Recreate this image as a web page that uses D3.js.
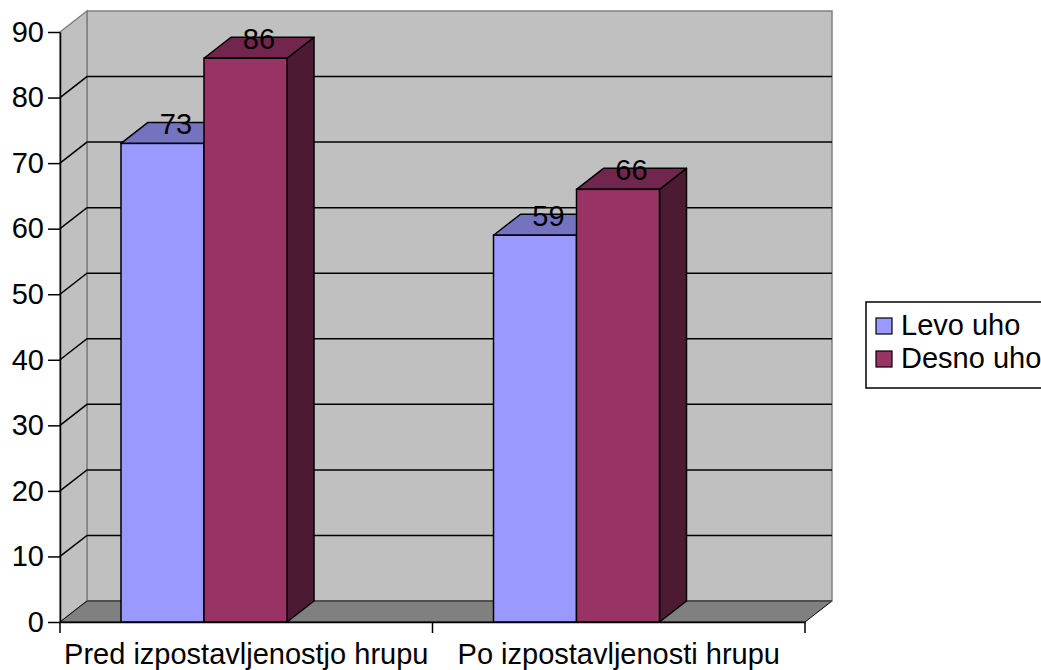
<!DOCTYPE html>
<html>
<head>
<meta charset="utf-8">
<script src="https://cdn.jsdelivr.net/npm/d3@7"></script>
<style>
  html, body { margin: 0; padding: 0; background: #ffffff; }
  svg { display: block; font-family: "Liberation Sans", Arial, sans-serif; }
</style>
</head>
<body>
<svg id="chart" width="1041" height="670"></svg>
<script>
// Chart data
const categories = ["Pred izpostavljenostjo hrupu", "Po izpostavljenosti hrupu"];
const seriesNames = ["Levo uho", "Desno uho"];
const levoUho = [73, 59];
const desnoUho = [86, 66];
const yTicks = [0, 10, 20, 30, 40, 50, 60, 70, 80, 90];

const seriesValues = [levoUho, desnoUho];
const colors = {
  front: ["#9999ff", "#993366"],
  top:   ["#7373bf", "#73264d"],
  side:  ["#4d4d80", "#4d1a33"]
};
const fontSize = 29;

const svg = d3.select("#chart");

// Plot geometry: front plane and depth offset of the 3D box
const x0 = 60, x1 = 805, yBottom = 622, yTop = 32;
const dx = 27, dy = -21;

const y = d3.scaleLinear().domain([0, 90]).range([yBottom, yTop]);
const x = d3.scaleBand().domain(categories).range([x0, x1]);
const barOffset = 61, barWidth = 83;
const xs = d3.scaleBand().domain(seriesNames).range([0, barWidth * 2]);

const g = svg.append("g");

// Back wall
g.append("rect")
  .attr("x", x0 + dx).attr("y", yTop + dy)
  .attr("width", x1 - x0).attr("height", yBottom - yTop)
  .attr("fill", "#c0c0c0").attr("stroke", "#808080").attr("stroke-width", 1.5);

// Side wall
g.append("path")
  .attr("d", `M${x0},${yTop} L${x0 + dx},${yTop + dy} L${x0 + dx},${yBottom + dy} L${x0},${yBottom} Z`)
  .attr("fill", "#c0c0c0").attr("stroke", "#808080").attr("stroke-width", 1.5);

// Gridlines on both walls
const grid = yTicks.filter(v => v > 0 && v < 90);
g.selectAll("path.grid").data(grid).enter().append("path")
  .attr("class", "grid")
  .attr("d", v => `M${x0},${y(v)} L${x0 + dx},${y(v) + dy} L${x1 + dx},${y(v) + dy}`)
  .attr("fill", "none").attr("stroke", "#000").attr("stroke-width", 1.5);

// Floor
g.append("path")
  .attr("d", `M${x0},${yBottom} L${x0 + dx},${yBottom + dy} L${x1 + dx},${yBottom + dy} L${x1},${yBottom} Z`)
  .attr("fill", "#808080").attr("stroke", "#000").attr("stroke-width", 1);
g.append("line")
  .attr("x1", x0 + dx).attr("x2", x1 + dx)
  .attr("y1", yBottom + dy).attr("y2", yBottom + dy)
  .attr("stroke", "#555").attr("stroke-width", 1.5);

// Bars (front, top and side faces)
const bars = [];
categories.forEach((c, i) => {
  seriesNames.forEach((s, j) => {
    bars.push({ cat: c, series: s, j, value: seriesValues[j][i] });
  });
});

const barG = g.selectAll("g.bar").data(bars).enter().append("g").attr("class", "bar");
const bx = d => x(d.cat) + barOffset + xs(d.series);
const bw = xs.bandwidth();

barG.append("path") // side
  .attr("d", d => {
    const l = bx(d) + bw, t = y(d.value);
    return `M${l},${t} L${l + dx},${t + dy} L${l + dx},${yBottom + dy} L${l},${yBottom} Z`;
  })
  .attr("fill", d => colors.side[d.j]).attr("stroke", "#000").attr("stroke-width", 1.5)
  .attr("stroke-linejoin", "round");

barG.append("path") // top
  .attr("d", d => {
    const l = bx(d), t = y(d.value);
    return `M${l},${t} L${l + dx},${t + dy} L${l + bw + dx},${t + dy} L${l + bw},${t} Z`;
  })
  .attr("fill", d => colors.top[d.j]).attr("stroke", "#000").attr("stroke-width", 1.5)
  .attr("stroke-linejoin", "round");

barG.append("rect") // front
  .attr("x", d => bx(d)).attr("y", d => y(d.value))
  .attr("width", bw).attr("height", d => yBottom - y(d.value))
  .attr("fill", d => colors.front[d.j]).attr("stroke", "#000").attr("stroke-width", 1.5);

// Value labels
g.selectAll("text.val").data(bars).enter().append("text")
  .attr("class", "val")
  .attr("x", d => bx(d) + bw / 2 + dx / 2)
  .attr("y", d => y(d.value) + dy / 2 + 1)
  .attr("text-anchor", "middle")
  .attr("font-size", fontSize)
  .attr("fill", "#000")
  .text(d => d.value);

// Value axis
const yAxis = d3.axisLeft(y).tickValues(yTicks).tickSize(12).tickPadding(4).tickSizeOuter(0);
const ya = svg.append("g").attr("transform", `translate(${x0},0)`).call(yAxis);
ya.select(".domain").attr("stroke", "#000").attr("stroke-width", 1.5);
ya.selectAll(".tick line").attr("stroke", "#000").attr("stroke-width", 1.5);
ya.selectAll(".tick text").attr("font-size", fontSize).attr("fill", "#000")
  .attr("font-family", "Liberation Sans, Arial, sans-serif");

// Category axis
const xAxis = d3.axisBottom(x).tickSize(0).tickPadding(0).tickSizeOuter(0);
const xa = svg.append("g").attr("transform", `translate(0,${yBottom})`).call(xAxis);
xa.select(".domain").attr("stroke", "#000").attr("stroke-width", 1.5);
xa.selectAll(".tick text").attr("font-size", fontSize).attr("fill", "#000")
  .attr("font-family", "Liberation Sans, Arial, sans-serif")
  .attr("dy", null).attr("y", 42);
// Boundary ticks between categories
const bounds = [x0, ...categories.slice(1).map(c => x(c)), x1];
xa.selectAll("line.sep").data(bounds).enter().append("line")
  .attr("class", "sep")
  .attr("x1", d => d).attr("x2", d => d).attr("y1", 0).attr("y2", 11)
  .attr("stroke", "#000").attr("stroke-width", 1.5);

// Legend
const lg = svg.append("g").attr("transform", "translate(866,302)");
lg.append("rect").attr("x", 0).attr("y", 0).attr("width", 190).attr("height", 86)
  .attr("fill", "#fff").attr("stroke", "#000").attr("stroke-width", 1.5);
const li = lg.selectAll("g.item").data(seriesNames).enter().append("g")
  .attr("transform", (d, i) => `translate(10,${16 + i * 33})`);
li.append("rect").attr("width", 16).attr("height", 16)
  .attr("fill", (d, i) => colors.front[i]).attr("stroke", "#000").attr("stroke-width", 1.2);
li.append("text").attr("x", 25).attr("y", 17).attr("font-size", fontSize).attr("fill", "#000")
  .text(d => d);
</script>
</body>
</html>
